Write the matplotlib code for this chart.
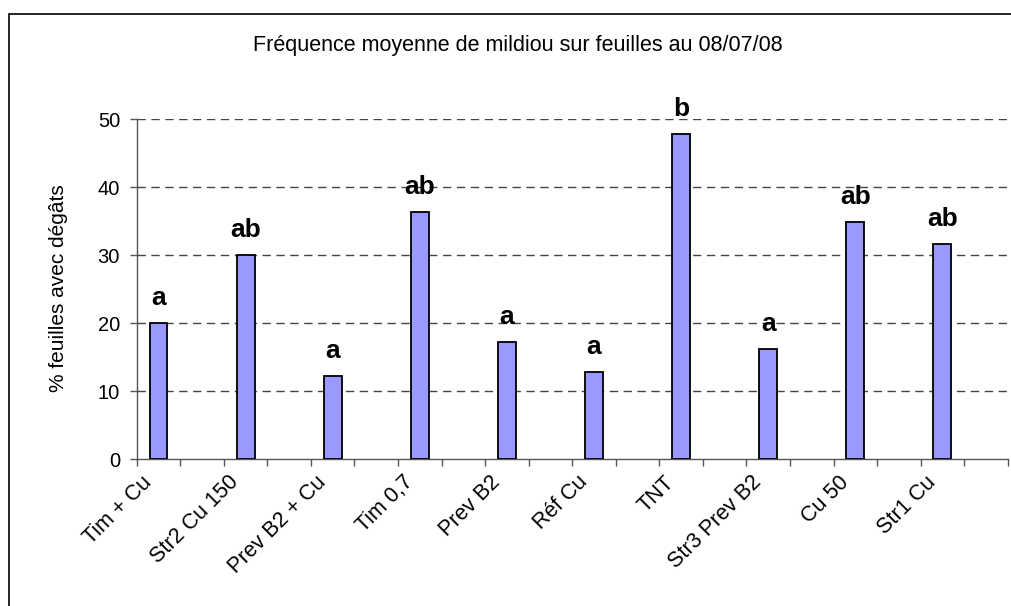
import matplotlib
matplotlib.use("Agg")
import matplotlib.pyplot as plt
from matplotlib.patches import Rectangle
from matplotlib.ticker import FixedLocator, MultipleLocator
from matplotlib.transforms import ScaledTranslation

plt.rcParams['font.family'] = ['Liberation Sans', 'DejaVu Sans']

categories = ["Tim + Cu", "Str2 Cu 150", "Prev B2 + Cu", "Tim 0,7", "Prev B2",
              "Réf Cu", "TNT", "Str3 Prev B2", "Cu 50", "Str1 Cu"]
values = [20.0, 30.0, 12.3, 36.4, 17.3, 12.9, 47.9, 16.2, 34.9, 31.7]
letters = ["a", "ab", "a", "ab", "a", "a", "b", "a", "ab", "ab"]
yticks = [0, 10, 20, 30, 40, 50]

title = "Fréquence moyenne de mildiou sur feuilles au 08/07/08"
ylabel = "% feuilles avec dégâts"

W, H = 1011, 606
fig = plt.figure(figsize=(W / 100, H / 100), dpi=100)

# chart border (Excel chart area), right/bottom edges fall outside the image
fig.patches.append(Rectangle((9 / W, -0.1), 1.2, 1 - 14 / H + 0.1,
                             transform=fig.transFigure, fill=False,
                             edgecolor='black', linewidth=1.2))

left, right = 136.7 / W, 1007.7 / W
bottom, top = 1 - 459.3 / H, 1 - 119.3 / H
ax = fig.add_axes([left, bottom, right - left, top - bottom])

n = len(categories)
slots = 2 * n
xpos = [2 * i + 0.5 for i in range(n)]

ax.bar(xpos, values, width=0.41, color='#9999FF', edgecolor='black',
       linewidth=1.3, zorder=3)

for x, v, t in zip(xpos, values, letters):
    ax.annotate(t, (x, v), xytext=(0, 13), textcoords='offset points',
                ha='center', va='baseline', fontsize=19, fontweight='bold',
                zorder=4)

ax.set_xlim(0, slots)
ax.set_ylim(0, 50)
ax.set_yticks(yticks)
ax.tick_params(axis='y', direction='out', length=5, width=1, color='#555555',
               labelsize=14.5, pad=7)

ax.xaxis.set_major_locator(FixedLocator(xpos))
ax.set_xticklabels(categories, rotation=45, ha='right', va='center',
                   rotation_mode='anchor', fontsize=15.5)
ax.xaxis.set_minor_locator(MultipleLocator(1))
ax.tick_params(axis='x', which='major', length=0, pad=15)
ax.tick_params(axis='x', which='minor', direction='out', length=5, width=1,
               color='#555555')
shift = ScaledTranslation(-0.10, 0.01, fig.dpi_scale_trans)
for lbl in ax.get_xticklabels():
    lbl.set_transform(lbl.get_transform() + shift)

for y in yticks[1:]:
    ax.axhline(y, color='#444444', linestyle=(0, (6, 4)), linewidth=1, zorder=1)

for s in ['top', 'right']:
    ax.spines[s].set_visible(False)
for s in ['left', 'bottom']:
    ax.spines[s].set_color('#555555')
    ax.spines[s].set_linewidth(1)

fig.text(518 / W, 1 - 45 / H, title, ha='center', va='center', fontsize=15.5)
fig.text(58 / W, 1 - 288 / H, ylabel, ha='center', va='center',
         rotation=90, fontsize=15)

fig.savefig("out.png", dpi=100)
